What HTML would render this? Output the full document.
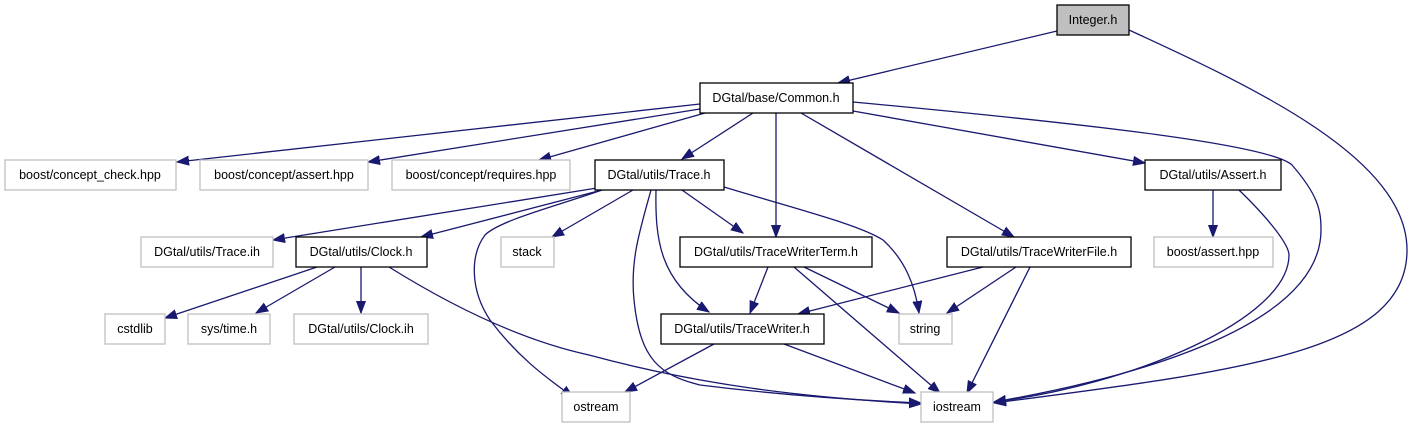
<!DOCTYPE html>
<html><head><meta charset="utf-8"><style>
html,body{margin:0;padding:0;background:#fff;}
svg{display:block;}
text{font-family:"Liberation Sans",sans-serif;font-size:12.5px;fill:#000;}
</style></head><body>
<svg width="1416" height="427" viewBox="0 0 1416 427" xmlns="http://www.w3.org/2000/svg">
<defs>
<marker id="a" markerWidth="13" markerHeight="10" refX="12" refY="5" orient="auto" markerUnits="userSpaceOnUse">
<path d="M0,0.5 L12,5 L0,9.5 Z" fill="#191970" stroke="#191970"/>
</marker>
</defs>
<g fill="none" stroke="#191970" stroke-width="1.3" marker-end="url(#a)">
<path d="M1057,31 L838,83"/>
<path d="M1129,30 C1260,90 1407,160 1407,250 C1407,350 1250,370 994,403"/>
<path d="M700,104 L177,162"/>
<path d="M700,109 L368,162"/>
<path d="M705,113 L539,160"/>
<path d="M753,113 L682,159"/>
<path d="M776,113 L776,237"/>
<path d="M801,113 L1014,237"/>
<path d="M853,111 L1145,163"/>
<path d="M853,102 C1100,125 1270,145 1292,165 C1318,195 1321,210 1321,230 C1321,330 1120,380 994,402"/>
<path d="M1213,190 L1213,237"/>
<path d="M1239,190 C1270,220 1289,245 1289,255 C1289,320 1130,385 994,402"/>
<path d="M597,188 L273,240"/>
<path d="M602,190 L421,237"/>
<path d="M602,190 C560,205 500,220 485,235 C470,255 470,290 490,320 C520,360 550,380 573,397"/>
<path d="M633,190 L552,237"/>
<path d="M651,190 C640,230 630,260 634,300 C640,360 660,375 700,385 C780,395 850,400 921,403"/>
<path d="M656,190 C655,240 660,280 709,312"/>
<path d="M682,190 L743,233"/>
<path d="M724,187 C800,210 860,225 883,240 C905,260 915,285 919,313"/>
<path d="M317,267 L165,318"/>
<path d="M335,267 L256,313"/>
<path d="M361,267 L361,313"/>
<path d="M389,267 C450,305 520,340 589,355 C700,385 800,397 921,404"/>
<path d="M768,267 L750,313"/>
<path d="M804,267 L899,313"/>
<path d="M794,267 L940,393"/>
<path d="M983,267 L798,314"/>
<path d="M1016,267 L947,313"/>
<path d="M1030,267 L967,393"/>
<path d="M714,344 L625,392"/>
<path d="M784,344 L915,393"/>
</g>
<g stroke-width="1.3">
<rect x="1057" y="5" width="72" height="30" fill="#bfbfbf" stroke="#000"/>
<rect x="700" y="83" width="153" height="30" fill="#fff" stroke="#000"/>
<rect x="5" y="160" width="171" height="30" fill="#fff" stroke="#bfbfbf"/>
<rect x="200" y="160" width="168" height="30" fill="#fff" stroke="#bfbfbf"/>
<rect x="392" y="160" width="178" height="30" fill="#fff" stroke="#bfbfbf"/>
<rect x="595" y="160" width="129" height="30" fill="#fff" stroke="#000"/>
<rect x="1145" y="160" width="136" height="30" fill="#fff" stroke="#000"/>
<rect x="141" y="237" width="132" height="30" fill="#fff" stroke="#bfbfbf"/>
<rect x="296" y="237" width="131" height="30" fill="#fff" stroke="#000"/>
<rect x="501" y="237" width="53" height="30" fill="#fff" stroke="#bfbfbf"/>
<rect x="680" y="237" width="192" height="30" fill="#fff" stroke="#000"/>
<rect x="947" y="237" width="184" height="30" fill="#fff" stroke="#000"/>
<rect x="1154" y="237" width="119" height="30" fill="#fff" stroke="#bfbfbf"/>
<rect x="105" y="314" width="60" height="30" fill="#fff" stroke="#bfbfbf"/>
<rect x="188" y="314" width="82" height="30" fill="#fff" stroke="#bfbfbf"/>
<rect x="294" y="314" width="134" height="30" fill="#fff" stroke="#bfbfbf"/>
<rect x="661" y="314" width="163" height="30" fill="#fff" stroke="#000"/>
<rect x="899" y="314" width="53" height="30" fill="#fff" stroke="#bfbfbf"/>
<rect x="562" y="392" width="68" height="30" fill="#fff" stroke="#bfbfbf"/>
<rect x="921" y="392" width="72" height="30" fill="#fff" stroke="#bfbfbf"/>
</g>
<g text-anchor="middle">
<text x="1093" y="24">Integer.h</text>
<text x="776" y="102">DGtal/base/Common.h</text>
<text x="90" y="179">boost/concept_check.hpp</text>
<text x="284" y="179">boost/concept/assert.hpp</text>
<text x="481" y="179">boost/concept/requires.hpp</text>
<text x="659" y="179">DGtal/utils/Trace.h</text>
<text x="1213" y="179">DGtal/utils/Assert.h</text>
<text x="207" y="256">DGtal/utils/Trace.ih</text>
<text x="361" y="256">DGtal/utils/Clock.h</text>
<text x="527" y="256">stack</text>
<text x="776" y="256">DGtal/utils/TraceWriterTerm.h</text>
<text x="1039" y="256">DGtal/utils/TraceWriterFile.h</text>
<text x="1213" y="256">boost/assert.hpp</text>
<text x="135" y="333">cstdlib</text>
<text x="229" y="333">sys/time.h</text>
<text x="361" y="333">DGtal/utils/Clock.ih</text>
<text x="742" y="333">DGtal/utils/TraceWriter.h</text>
<text x="925" y="333">string</text>
<text x="596" y="411">ostream</text>
<text x="957" y="411">iostream</text>
</g>
</svg>
</body></html>
